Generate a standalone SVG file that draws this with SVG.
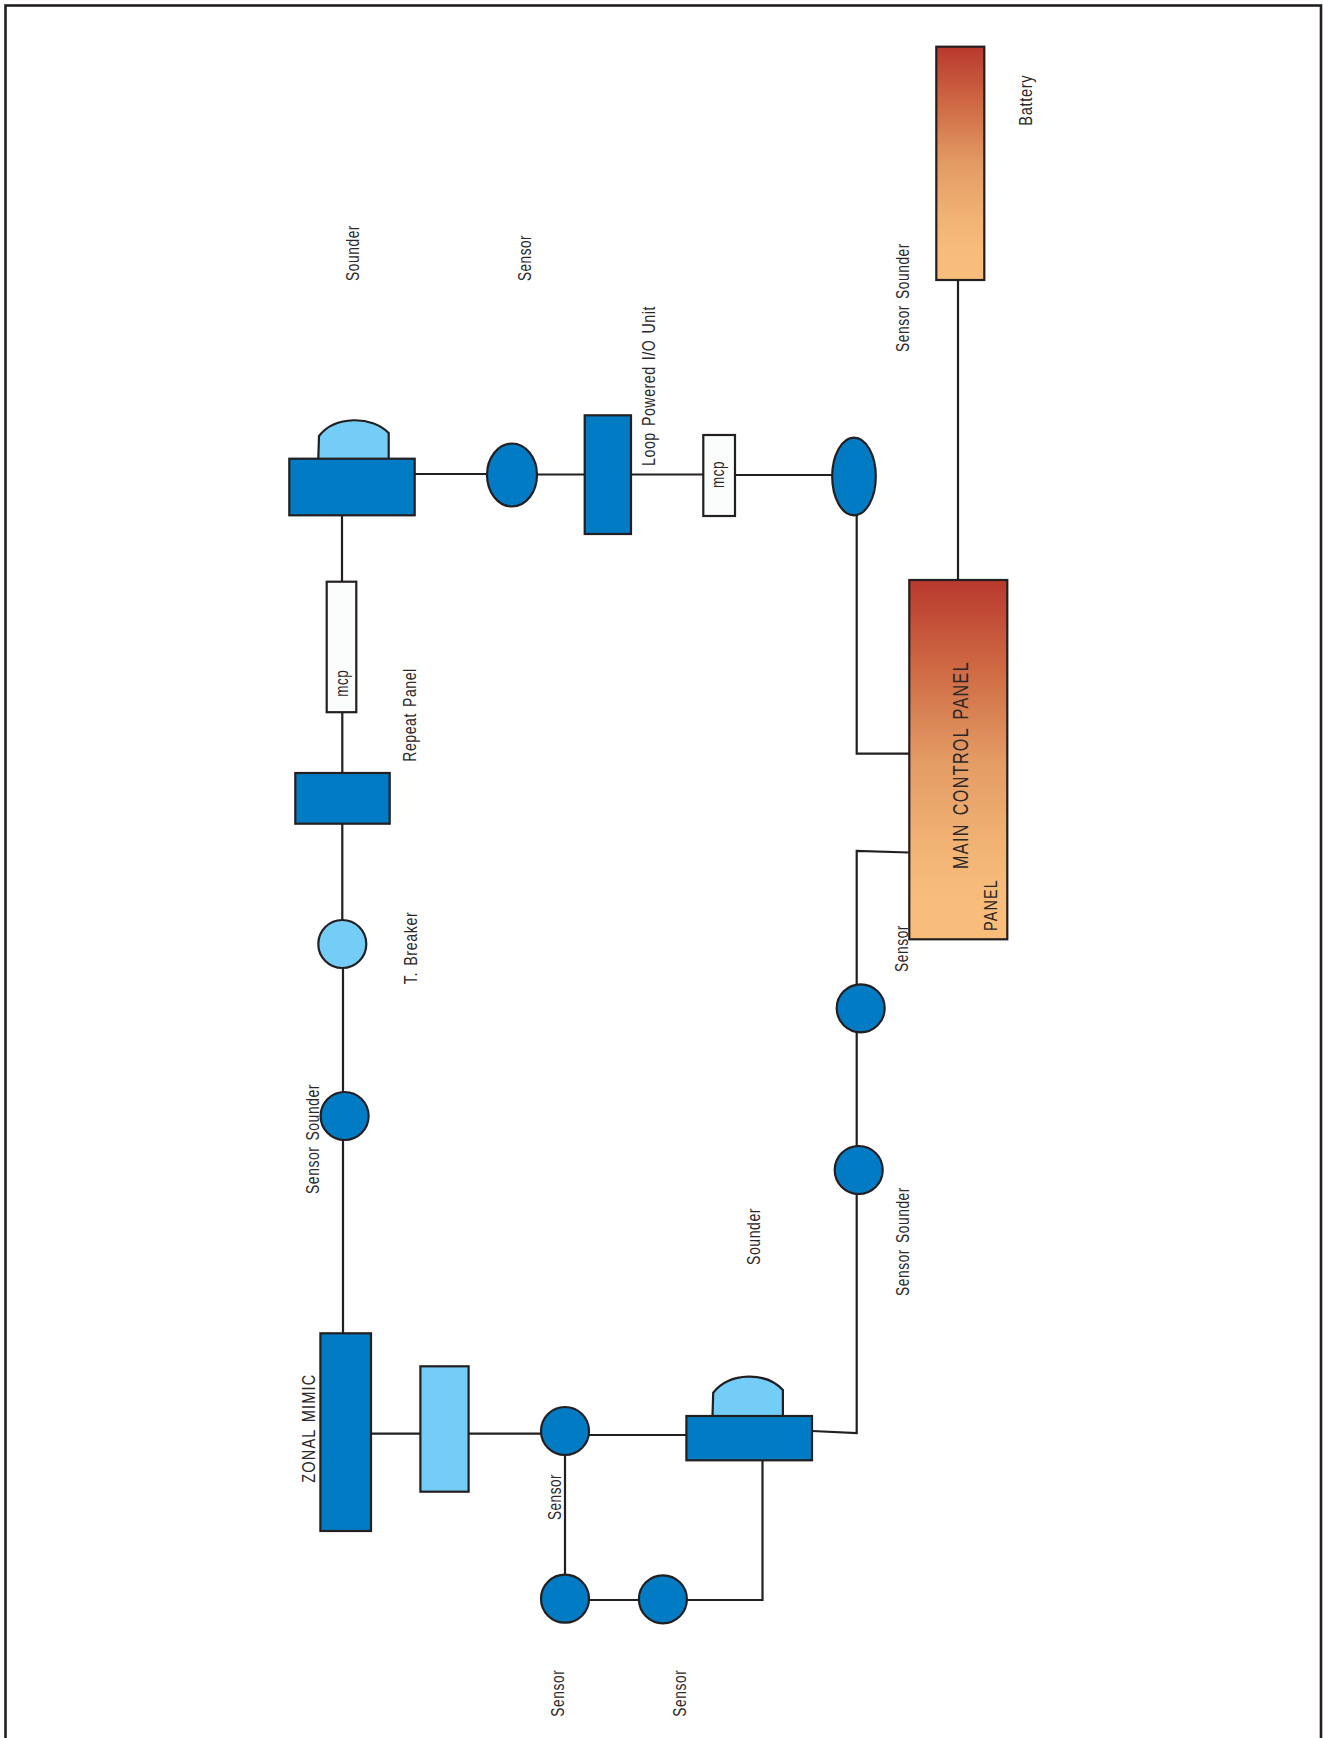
<svg xmlns="http://www.w3.org/2000/svg" width="1323" height="1738" viewBox="0 0 1323 1738">
<defs>
<linearGradient id="warm" x1="0" y1="0" x2="0" y2="1"><stop offset="0" stop-color="#b8392d"/><stop offset="0.25" stop-color="#cf6a44"/><stop offset="0.5" stop-color="#e39b64"/><stop offset="0.75" stop-color="#f2b475"/><stop offset="0.9" stop-color="#f8bd7b"/></linearGradient>
</defs>
<style>
.n{stroke:#231f20;stroke-width:2.2}
.b{fill:#007bc4}.l{fill:#73cdf6}.w{fill:#fbfdfc}.g{fill:url(#warm)}
.c{fill:none;stroke:#231f20;stroke-width:2.2}
text{font-family:"Liberation Sans",Arial,sans-serif;font-size:17.5px;letter-spacing:.7px;word-spacing:2px;fill:#2b2728}
.big{font-size:21.5px;letter-spacing:1.8px;word-spacing:3px}
.caps{font-size:18px;letter-spacing:1.4px}
</style>
<rect id="frame" x="5.5" y="5.5" width="1315.5" height="1750" fill="#fff" stroke="#231f20" stroke-width="2.6"/>
<g id="connectors">
<path class="c" d="M415 474H487M537 474.5H585M631 474.5H703M735 475H832"/>
<path class="c" d="M342 515V582M342.3 711V773M342.3 823V920M343 968V1092M343 1140V1333"/>
<path class="c" d="M958 280V580"/>
<path class="c" d="M856.7 515V753.7H909"/>
<path class="c" d="M909 852.5L856.7 851V984M856.7 1032V1146M856.7 1194V1433L812 1431"/>
<path class="c" d="M371 1433.7H421M468.6 1433.7H541M589 1435H686.4"/>
<path class="c" d="M565 1455V1575M589 1600H639M687 1600H762.5V1460"/>
</g>
<g id="sounder-top">
<path class="n l" d="M318.3 459L319 436C335 415.5 372 415.5 388.7 433V459Z"/>
<rect class="n b" x="289.3" y="458.7" width="125.4" height="56.6"/>
<text transform="translate(359.3 281) rotate(-90)" textLength="56" lengthAdjust="spacingAndGlyphs">Sounder</text>
</g>
<g id="sensor-top">
<ellipse class="n b" cx="512" cy="475" rx="25" ry="31.5"/>
<text transform="translate(530.7 281) rotate(-90)" textLength="46" lengthAdjust="spacingAndGlyphs">Sensor</text>
</g>
<g id="loop-unit">
<rect class="n b" x="584.7" y="415.3" width="46.3" height="118.7"/>
<text transform="translate(655 466) rotate(-90)" textLength="160" lengthAdjust="spacingAndGlyphs">Loop Powered I/O Unit</text>
</g>
<g id="mcp-right">
<rect class="n w" x="703.3" y="435" width="31.7" height="81"/>
<text transform="translate(724 488) rotate(-90)" textLength="27" lengthAdjust="spacingAndGlyphs">mcp</text>
</g>
<g id="sensor-ellipse"><ellipse class="n b" cx="854" cy="476.5" rx="21.8" ry="38.8"/></g>
<g id="battery">
<rect class="n g" x="936.3" y="46.7" width="48" height="233.3"/>
<text transform="translate(1031.7 125.7) rotate(-90)" textLength="51" lengthAdjust="spacingAndGlyphs">Battery</text>
</g>
<text id="label-ss-right" transform="translate(908.7 352) rotate(-90)" textLength="109" lengthAdjust="spacingAndGlyphs">Sensor Sounder</text>
<g id="main-panel">
<rect class="n g" x="909.3" y="580" width="98" height="359.3"/>
<text class="big" transform="translate(967.7 869) rotate(-90)" textLength="208" lengthAdjust="spacingAndGlyphs">MAIN CONTROL PANEL</text>
<text class="caps" transform="translate(997 931) rotate(-90)" textLength="52" lengthAdjust="spacingAndGlyphs">PANEL</text>
</g>
<g id="sensor-a">
<circle class="n b" cx="860.7" cy="1008.3" r="24"/>
<text transform="translate(908 972) rotate(-90)" textLength="47" lengthAdjust="spacingAndGlyphs">Sensor</text>
</g>
<g id="sensor-b">
<circle class="n b" cx="858.7" cy="1170" r="24"/>
<text transform="translate(909 1296) rotate(-90)" textLength="109" lengthAdjust="spacingAndGlyphs">Sensor Sounder</text>
</g>
<g id="sounder-bottom">
<path class="n l" d="M712.5 1416L713.2 1392.7C730 1371.8 766 1371.8 782.9 1390V1416Z"/>
<rect class="n b" x="686.4" y="1416" width="125.6" height="44.3"/>
<text transform="translate(760 1265) rotate(-90)" textLength="57" lengthAdjust="spacingAndGlyphs">Sounder</text>
</g>
<g id="mcp-left">
<rect class="n w" x="326.7" y="581.7" width="29.6" height="130.5"/>
<text transform="translate(348.3 696.7) rotate(-90)" textLength="27" lengthAdjust="spacingAndGlyphs">mcp</text>
</g>
<g id="repeat-panel">
<rect class="n b" x="295.3" y="773" width="94.4" height="50.7"/>
<text transform="translate(416 761.7) rotate(-90)" textLength="93.4" lengthAdjust="spacingAndGlyphs">Repeat Panel</text>
</g>
<g id="t-breaker">
<circle class="n l" cx="342.3" cy="944" r="24"/>
<text transform="translate(416.7 984.3) rotate(-90)" textLength="72.6" lengthAdjust="spacingAndGlyphs">T. Breaker</text>
</g>
<g id="sensor-c">
<circle class="n b" cx="344.6" cy="1116" r="24"/>
<text transform="translate(319 1194) rotate(-90)" textLength="110" lengthAdjust="spacingAndGlyphs">Sensor Sounder</text>
</g>
<g id="zonal-mimic">
<rect class="n b" x="320.4" y="1333.3" width="50.6" height="197.7"/>
<text class="caps" transform="translate(315 1482.7) rotate(-90)" textLength="109" lengthAdjust="spacingAndGlyphs">ZONAL MIMIC</text>
</g>
<g id="light-box"><rect class="n l" x="420.4" y="1366.3" width="48.2" height="125.4"/></g>
<g id="sensor-d">
<circle class="n b" cx="565" cy="1431" r="24"/>
<text transform="translate(560.5 1520) rotate(-90)" textLength="46" lengthAdjust="spacingAndGlyphs">Sensor</text>
</g>
<g id="sensor-e">
<circle class="n b" cx="565" cy="1598.7" r="24"/>
<text transform="translate(564 1716.7) rotate(-90)" textLength="47" lengthAdjust="spacingAndGlyphs">Sensor</text>
</g>
<g id="sensor-f">
<circle class="n b" cx="662.9" cy="1599.3" r="24"/>
<text transform="translate(686.4 1716.7) rotate(-90)" textLength="47" lengthAdjust="spacingAndGlyphs">Sensor</text>
</g>
</svg>
